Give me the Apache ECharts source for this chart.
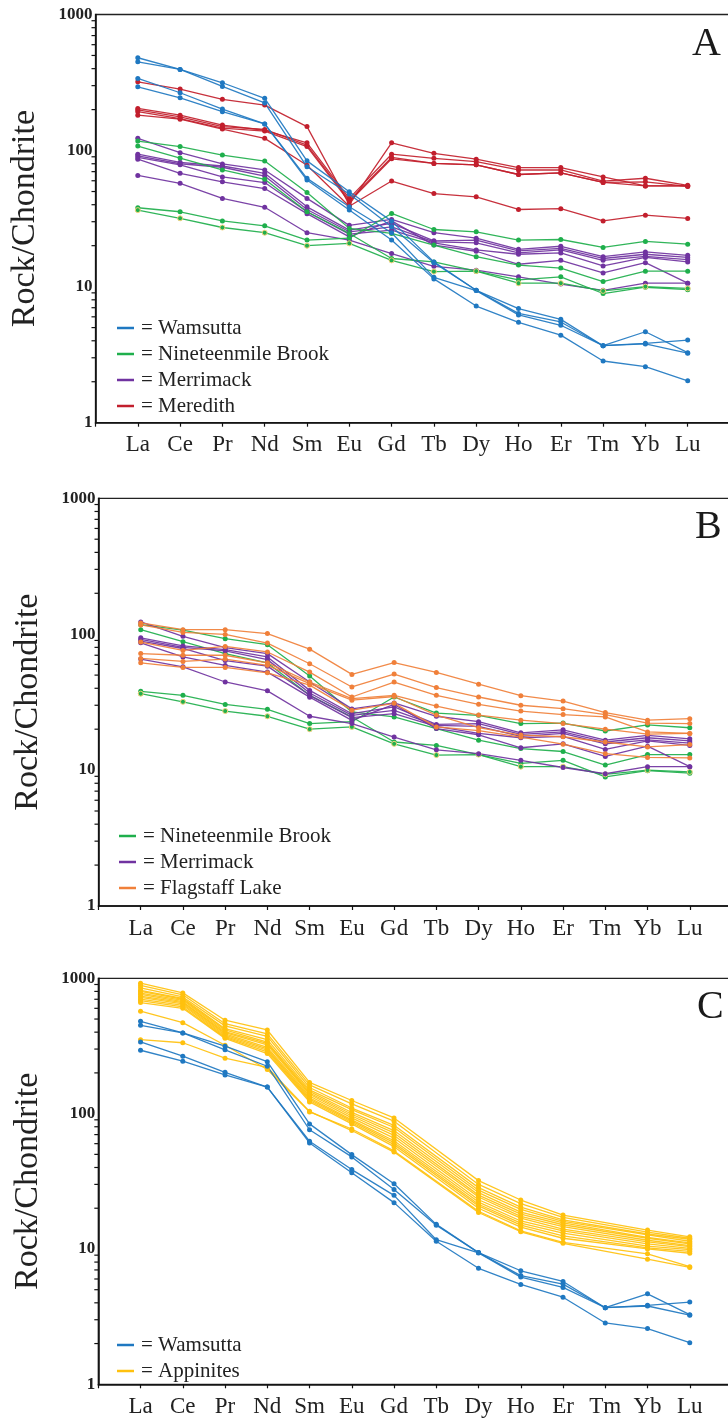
<!DOCTYPE html>
<html>
<head>
<meta charset="utf-8">
<script src="https://cdn.jsdelivr.net/npm/echarts@6/dist/echarts.min.js"></script>
<style>
  html, body { margin: 0; padding: 0; background: #fff; }
  #chart { width: 728px; height: 1427px; }
</style>
</head>
<body>
<div id="chart"></div>
<script>
// REE, chondrite normalised
const ELEMENTS = ['La', 'Ce', 'Pr', 'Nd', 'Sm', 'Eu', 'Gd', 'Tb', 'Dy', 'Ho', 'Er', 'Tm', 'Yb', 'Lu'];
const Y_TICKS = [1, 10, 100, 1000];

const WAMSUTTA = [
  [481, 395, 315, 242, 84, 49.8, 30.3, 15.2, 9.4, 6.9, 5.75, 3.68, 3.83, 4.05],
  [449, 395, 296, 224, 76, 47.9, 27.5, 15.0, 9.4, 6.36, 5.5, 3.68, 4.66, 3.27],
  [339, 266, 202, 157, 62.5, 38.6, 24.9, 11.7, 9.35, 6.2, 5.2, 3.68, 3.79, 3.24],
  [294, 244, 193, 157, 60.7, 36.6, 22.0, 11.4, 7.2, 5.47, 4.4, 2.84, 2.58, 2.03]
];
const NINETEENMILE = [
  [117.5, 107, 92.7, 83.7, 49.2, 26.8, 24.6, 20.2, 16.6, 14.4, 13.7, 10.9, 13.0, 13.0],
  [108, 88, 72, 61.5, 35.5, 24.6, 16.1, 15.2, 13.0, 11.2, 11.8, 8.9, 9.9, 9.5],
  [38.0, 35.5, 30.4, 28.0, 22.0, 22.7, 34.5, 26.3, 25.3, 22.0, 22.2, 19.4, 21.5, 20.5],
  [36.5, 31.8, 27.2, 24.9, 20.0, 20.8, 15.6, 12.9, 13.0, 10.6, 10.6, 9.3, 10.0, 9.7]
];
const MERRIMACK = [
  [123, 96.5, 79.7, 72, 44.5, 28.2, 31.2, 24.9, 22.7, 18.8, 19.8, 16.6, 18.0, 17.0],
  [94, 82, 77, 68, 38.6, 26.0, 29.2, 21.7, 22.0, 18.3, 19.1, 16.1, 17.3, 16.4],
  [91.5, 80, 75.4, 65, 36.9, 25.3, 27.5, 21.3, 21.0, 17.7, 18.6, 15.6, 16.7, 15.8],
  [89, 78.5, 64, 58.2, 35.5, 24.3, 26.0, 21.0, 18.6, 17.3, 17.7, 14.2, 16.4, 15.2],
  [86.5, 68, 58.9, 52.6, 34.4, 23.2, 30.4, 20.2, 18.2, 14.6, 15.6, 12.6, 15.0, 10.6],
  [65.6, 57.5, 44.5, 38.3, 24.9, 22.0, 17.5, 14.1, 13.2, 11.8, 10.45, 9.4, 10.6, 10.6]
];
const MEREDITH = [
  [320, 283, 238, 216, 150, 40, 114, 95.4, 86.5, 75, 75, 64, 55, 55],
  [204, 182, 154, 141, 114, 44.5, 94, 87.7, 82.8, 72, 72, 59.7, 62.6, 55.5],
  [199, 177, 150, 143, 109.5, 43, 89, 80.5, 78.5, 66.7, 68.5, 58.3, 58.9, 54.5],
  [193, 172, 146, 139, 107, 42, 87, 80.5, 78.5, 66.7, 68.5, 58.3, 55, 55],
  [182, 170, 144, 123, 78, 39, 59.7, 48.3, 45.7, 36.9, 37.4, 30.4, 33.5, 31.7]
];
const FLAGSTAFF = [
  [121, 108, 108, 101, 77.6, 50.6, 61.9, 52.3, 42.9, 35.3, 32.2, 26.5, 23.3, 23.9],
  [117, 103, 99.6, 86, 60.6, 40.9, 50.9, 40.5, 34.5, 30.0, 28.3, 25.6, 22.2, 22.0],
  [87.6, 76, 81.3, 74, 52.6, 34.5, 44.4, 35.5, 30.5, 27.2, 25.6, 24.6, 19.1, 18.6],
  [72, 70, 70, 61.6, 44.5, 33.6, 35.5, 29.6, 25.4, 23.3, 22.0, 20.0, 18.4, 18.6],
  [66.3, 63, 65.6, 59, 43.3, 32.7, 34.8, 25.4, 20.5, 18.1, 17.6, 16.1, 14.8, 15.4],
  [61.6, 57, 57, 52, 42.2, 27.6, 31, 20.8, 19.5, 17.5, 15.5, 13.2, 12.4, 12.3]
];
// Tb and Tm not analysed for the appinites
const APPINITES = [
  [920, 780, 490, 415, 170, 125, 93, null, 32, 23, 17.8, null, 13.8, 12.3],
  [885, 755, 462, 388, 163, 118, 88, null, 30, 21.6, 17.1, null, 13.3, 12.0],
  [850, 728, 445, 372, 156, 110, 82, null, 28.4, 20.4, 16.4, null, 12.9, 11.8],
  [815, 712, 424, 352, 150, 107, 79, null, 27.2, 19.6, 16.0, null, 12.7, 11.4],
  [800, 700, 416, 338, 146, 102, 75, null, 26.1, 18.7, 15.6, null, 12.2, 11.1],
  [778, 688, 404, 331, 142, 99, 72, null, 25.0, 18.1, 15.1, null, 12.0, 10.9],
  [762, 672, 396, 322, 139, 96, 69, null, 24.2, 17.4, 14.6, null, 11.6, 10.6],
  [738, 661, 389, 309, 135, 93, 66, null, 23.1, 16.9, 14.0, null, 11.3, 10.4],
  [722, 646, 381, 301, 131, 90, 63, null, 22.2, 16.1, 13.6, null, 10.9, 10.1],
  [701, 632, 373, 294, 128, 88, 61, null, 21.4, 15.5, 13.1, null, 10.5, 9.9],
  [683, 614, 366, 286, 125, 86, 59, null, 20.8, 15.0, 12.5, null, 10.2, 9.6],
  [662, 600, 360, 278, 122, 84, 57, null, 20.0, 14.5, 12.0, null, 10.0, 9.3],
  [572, 470, 320, 212, 103, 77, 53, null, 19.0, 13.6, 11.2, null, 9.2, 7.4],
  [352, 334, 257, 220, 104, 75, 52, null, 18.6, 13.4, 11.0, null, 8.4, 7.3]
];

const COLORS = {
  'Wamsutta': '#1f78c1',
  'Nineteenmile Brook': '#1faf4c',
  'Merrimack': '#7033a0',
  'Meredith': '#c21f2d',
  'Flagstaff Lake': '#f0803a',
  'Appinites': '#ffc10e'
};

const SERIF = '"Liberation Serif", "DejaVu Serif", serif';
const CATS = [''].concat(ELEMENTS, [' ']);

// minor ticks of the log axis, 2..9 in each decade
const MINOR_TICKS = [];
[1, 10, 100].forEach(d => { for (let k = 2; k <= 9; k++) MINOR_TICKS.push(k * d); });

const chart = echarts.init(document.getElementById('chart'), null, { renderer: 'canvas' });

const grids = [
  { left: 95.5, top: 14.5, width: 634.5, height: 408.2 },
  { left: 98.5, top: 498.3, width: 633.5, height: 407.7 },
  { left: 98.3, top: 978.3, width: 633.7, height: 406 }
];

function lineSeries(name, sample, g, extra) {
  const color = COLORS[name];
  return Object.assign({
    type: 'line',
    name: name,
    xAxisIndex: g,
    yAxisIndex: g,
    data: sample.map((v, i) => [ELEMENTS[i], v]).filter(d => d[1] != null),
    symbol: 'circle',
    symbolSize: 5,
    lineStyle: { color: color, width: 1.3, opacity: 0.92 },
    itemStyle: { color: color },
    emphasis: { disabled: true },
    animation: false
  }, extra || {});
}

function group(name, rows, g) {
  return rows.map((r, i) => {
    // lowest Nineteenmile sample has pale outlined markers
    if (name === 'Nineteenmile Brook' && i === 3) {
      return lineSeries(name, r, g, { itemStyle: { color: COLORS[name], borderColor: '#f3d27a', borderWidth: 1 } });
    }
    return lineSeries(name, r, g);
  });
}

function minorTicks(g) {
  return {
    type: 'custom',
    xAxisIndex: g,
    yAxisIndex: g,
    silent: true,
    clip: false,
    animation: false,
    data: MINOR_TICKS.map(v => [0, v]),
    renderItem(params, api) {
      const p = api.coord([0, api.value(1)]);
      const x = params.coordSys.x;
      return {
        type: 'line',
        shape: { x1: x - 4, y1: p[1], x2: x, y2: p[1] },
        style: { stroke: '#111', lineWidth: 1.2 }
      };
    }
  };
}

const xAxes = grids.map((g, i) => ({
  type: 'category',
  gridIndex: i,
  data: CATS,
  boundaryGap: false,
  axisLine: { lineStyle: { color: '#111', width: 1.6 } },
  axisTick: { interval: 0, length: 4, lineStyle: { color: '#111', width: 1.2 } },
  axisLabel: { interval: 0, margin: 11, fontFamily: SERIF, fontSize: 23, color: '#222' },
  splitLine: { show: false }
}));

const yAxes = grids.map((g, i) => ({
  type: 'log',
  gridIndex: i,
  logBase: 10,
  min: Y_TICKS[0],
  max: Y_TICKS[Y_TICKS.length - 1],
  splitNumber: 3,
  name: 'Rock/Chondrite',
  nameLocation: 'middle',
  nameGap: 53,
  nameTextStyle: { fontFamily: SERIF, fontSize: 34, color: '#222' },
  axisLine: { show: true, lineStyle: { color: '#111', width: 1.6 } },
  axisTick: { length: 6, lineStyle: { color: '#111', width: 1.4 } },
  axisLabel: { margin: 3, fontFamily: SERIF, fontWeight: 'bold', fontSize: 17, color: '#222', formatter: v => String(v) },
  splitLine: { show: false }
}));

function legend(names, left, top) {
  return {
    data: names,
    orient: 'vertical',
    left: left,
    top: top,
    padding: 0,
    itemGap: 4,
    icon: 'rect',
    itemWidth: 17,
    itemHeight: 2.5,
    selectedMode: false,
    formatter: '= {name}',
    textStyle: { fontFamily: SERIF, fontSize: 21, lineHeight: 22, color: '#222', padding: [0, 0, 0, 2] }
  };
}

const series = [].concat(
  group('Meredith', MEREDITH, 0),
  group('Merrimack', MERRIMACK, 0),
  group('Nineteenmile Brook', NINETEENMILE, 0),
  group('Wamsutta', WAMSUTTA, 0),
  group('Nineteenmile Brook', NINETEENMILE, 1),
  group('Merrimack', MERRIMACK, 1),
  group('Flagstaff Lake', FLAGSTAFF, 1),
  group('Appinites', APPINITES, 2),
  group('Wamsutta', WAMSUTTA, 2),
  [minorTicks(0), minorTicks(1), minorTicks(2)]
);

const letterStyle = { fontFamily: SERIF, fontSize: 40, fill: '#1a1a1a' };

const option = {
  backgroundColor: '#fff',
  animation: false,
  grid: grids.map(g => Object.assign({
    show: true, borderColor: '#222', borderWidth: 1.3, backgroundColor: 'transparent',
    containLabel: false, outerBoundsMode: 'none'
  }, g)),
  xAxis: xAxes,
  yAxis: yAxes,
  legend: [
    legend(['Wamsutta', 'Nineteenmile Brook', 'Merrimack', 'Meredith'], 117, 317),
    legend(['Nineteenmile Brook', 'Merrimack', 'Flagstaff Lake'], 119, 825),
    legend(['Wamsutta', 'Appinites'], 117, 1334)
  ],
  graphic: [
    { type: 'text', left: 692, top: 24, style: Object.assign({ text: 'A' }, letterStyle) },
    { type: 'text', left: 695, top: 507, style: Object.assign({ text: 'B' }, letterStyle) },
    { type: 'text', left: 697, top: 987, style: Object.assign({ text: 'C' }, letterStyle) }
  ],
  series: series
};

chart.setOption(option);
</script>
</body>
</html>
